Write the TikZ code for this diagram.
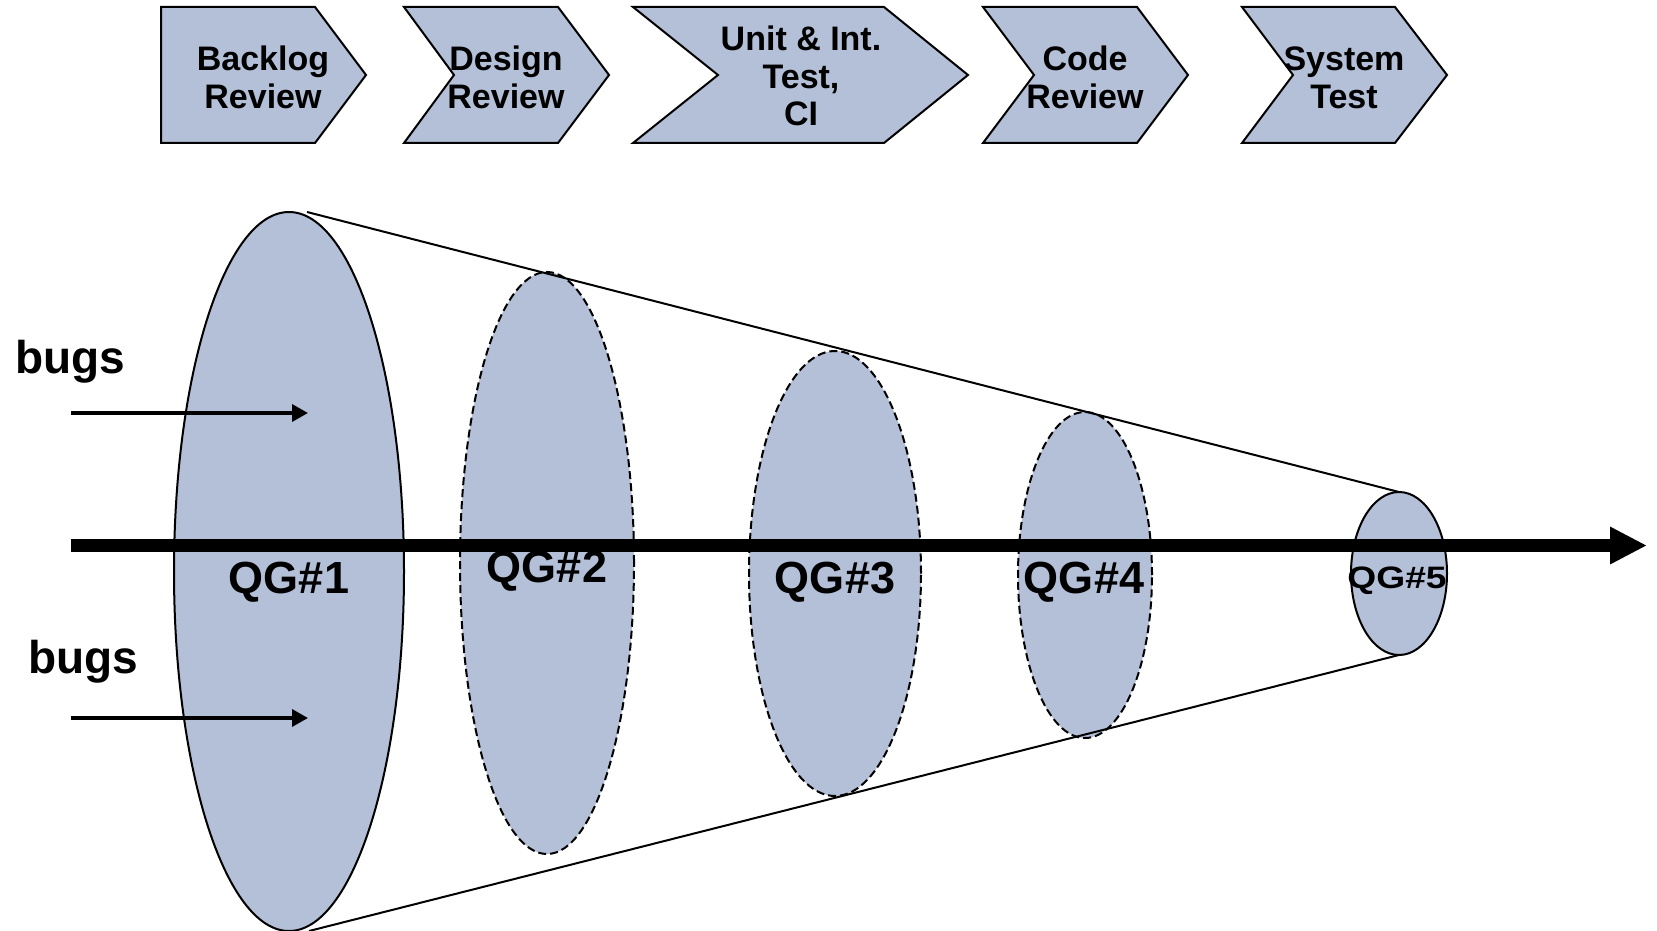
\documentclass[tikz,border=0pt]{standalone}
\usepackage{fontspec}
\setmainfont{Liberation Sans}
\usetikzlibrary{shapes.geometric,arrows.meta}
\definecolor{qgfill}{RGB}{180,192,215}
\tikzset{
  chev/.style={fill=qgfill, draw=black, line width=2pt, line join=miter},
  chevtext/.style={inner sep=0pt, align=center, anchor=base, font=\bfseries\fontsize{34}{38}\selectfont},
  gate/.style={ellipse, fill=qgfill, draw=black, line width=2pt, inner sep=0pt, outer sep=0pt},
  gatedash/.style={gate, dash pattern=on 8pt off 4pt},
  qglabel/.style={inner sep=0pt, anchor=base, font=\bfseries\fontsize{45}{48}\selectfont},
  bugslabel/.style={inner sep=0pt, anchor=base west, font=\bfseries\fontsize{46}{50}\selectfont},
  cone/.style={draw=black, line width=2pt},
  bugarrow/.style={line width=3.5pt, -{Triangle[length=16pt 0 0, width=17pt 0 0]}},
  mainarrow/.style={line width=13pt, -{Triangle[length=37pt 0 0, width=35pt 0 0]}}
}
\begin{document}
\begin{tikzpicture}[x=1pt, y=-1pt]
\useasboundingbox (0,0) rectangle (1657,931);
% chevrons
\draw[chev] (161,7) -- (315,7) -- (366,75) -- (315,143) -- (161,143) -- cycle;
\draw[chev] (404,7) -- (558,7) -- (609,75) -- (558,143) -- (404,143) -- (454,75) -- cycle;
\draw[chev] (633,7) -- (884,7) -- (968,75) -- (884,143) -- (633,143) -- (718,75) -- cycle;
\draw[chev] (983,7) -- (1137,7) -- (1188,75) -- (1137,143) -- (983,143) -- (1034,75) -- cycle;
\draw[chev] (1242,7) -- (1395,7) -- (1447,75) -- (1395,143) -- (1242,143) -- (1293,75) -- cycle;
\node[chevtext] (t1) at (263,109) {Backlog\\Review};
\node[chevtext] (t2) at (506,109) {Design\\Review};
\node[chevtext, font=\bfseries\fontsize{34}{37.5}\selectfont] (t3) at (801,126) {Unit \& Int.\\Test,\\CI};
\node[chevtext] (t4) at (1085,109) {Code\\Review};
\node[chevtext] (t5) at (1344,109) {System\\Test};
% gates
\node[gate, minimum width=230pt, minimum height=719pt] (qg1) at (289,571.5) {};
\node[gatedash, minimum width=174pt, minimum height=582pt] (qg2) at (547,563) {};
\node[gatedash, minimum width=172pt, minimum height=445pt] (qg3) at (835,573.5) {};
\node[gatedash, minimum width=134pt, minimum height=326pt] (qg4) at (1085,575) {};
\node[gate, minimum width=96pt, minimum height=163pt] (qg5) at (1399,573.5) {};
% cone
\draw[cone] ([xshift=18pt]qg1.north) -- (qg5.north);
\draw[cone] ([xshift=20pt]qg1.south) -- (qg5.south);
% main arrow
\coordinate (mstart) at (71,545.5);
\coordinate (mend) at (1647,545.5);
\draw[mainarrow] (mstart) -- (mend);
% bugs
\node[bugslabel] (b1) at (15,373) {bugs};
\node[bugslabel] (b2) at (28,673) {bugs};
\coordinate (ba1) at (71,413);
\coordinate (bb1) at (308,413);
\coordinate (ba2) at (71,718);
\coordinate (bb2) at (308,718);
\draw[bugarrow] (ba1) -- (bb1);
\draw[bugarrow] (ba2) -- (bb2);
% labels
\node[qglabel] (l1) at (289,593) {QG\#1};
\node[qglabel] (l2) at (547,582) {QG\#2};
\node[qglabel] (l3) at (835,593) {QG\#3};
\node[qglabel] (l4) at (1084,593) {QG\#4};
\node[inner sep=0pt, anchor=base, font=\bfseries\fontsize{31}{34}\selectfont] (l5) at (1397,588) {\scalebox{1.2}[1]{QG\#5}};
\end{tikzpicture}
\end{document}
